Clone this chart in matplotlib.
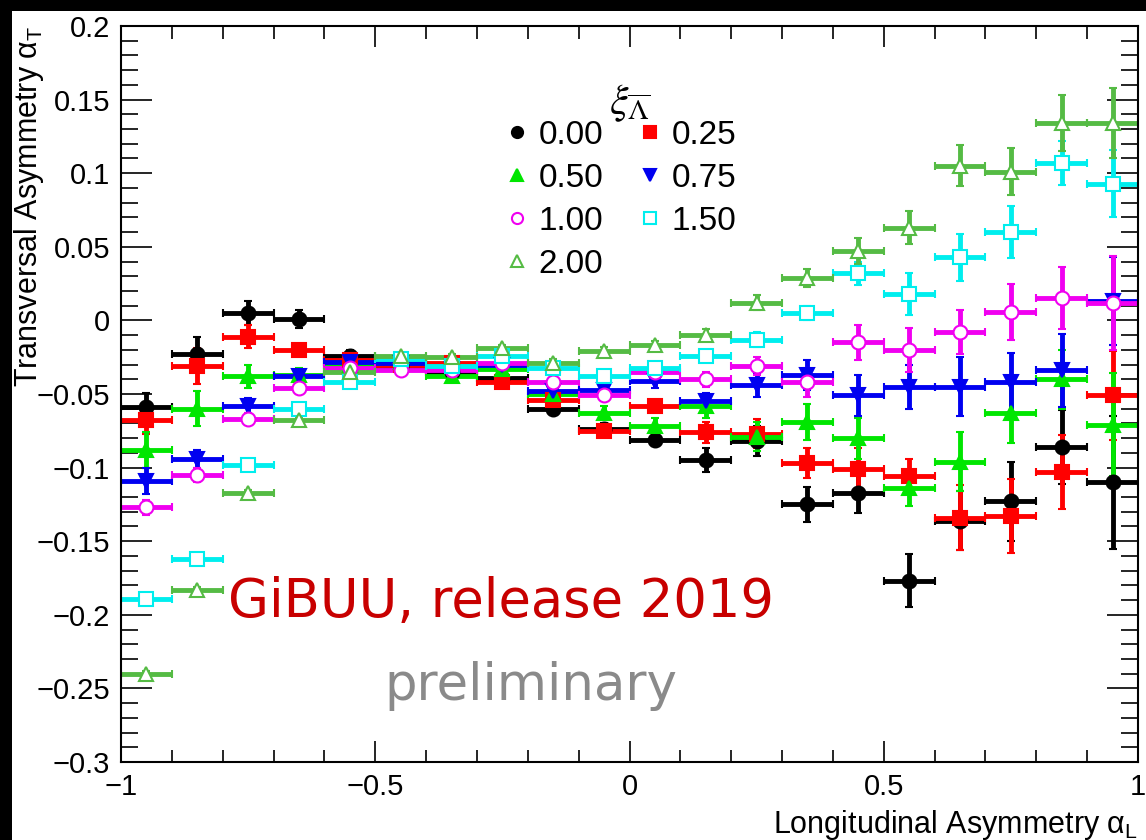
import matplotlib
matplotlib.use("Agg")
import matplotlib.pyplot as plt
from matplotlib.lines import Line2D
from matplotlib.patches import Rectangle
from matplotlib.ticker import MultipleLocator, FuncFormatter

plt.rcParams['font.family'] = ['Liberation Sans', 'DejaVu Sans']
plt.rcParams['mathtext.fontset'] = 'custom'
plt.rcParams['mathtext.rm'] = 'Liberation Sans'

# bin centres of the longitudinal asymmetry
alpha_l = [-0.95, -0.85, -0.75, -0.65, -0.55, -0.45, -0.35, -0.25, -0.15, -0.05,
           0.05, 0.15, 0.25, 0.35, 0.45, 0.55, 0.65, 0.75, 0.85, 0.95]
half_bin = 0.05

# transversal asymmetry for each xi value
xi_000 = [-0.059, -0.023, 0.005, 0.001, -0.024, -0.031, -0.035, -0.039, -0.060, -0.074,
          -0.081, -0.095, -0.082, -0.125, -0.117, -0.177, -0.136, -0.123, -0.086, -0.110]
xi_025 = [-0.068, -0.031, -0.011, -0.020, -0.027, -0.030, -0.029, -0.042, -0.054, -0.075,
          -0.058, -0.076, -0.077, -0.097, -0.101, -0.106, -0.134, -0.133, -0.103, -0.051]
xi_050 = [-0.088, -0.060, -0.038, -0.037, -0.030, -0.028, -0.038, -0.033, -0.050, -0.063,
          -0.072, -0.058, -0.079, -0.069, -0.080, -0.114, -0.096, -0.063, -0.040, -0.071]
xi_075 = [-0.109, -0.094, -0.058, -0.038, -0.028, -0.029, -0.033, -0.030, -0.048, -0.047,
          -0.041, -0.055, -0.044, -0.037, -0.051, -0.045, -0.045, -0.042, -0.034, 0.013]
xi_100 = [-0.127, -0.105, -0.067, -0.046, -0.032, -0.034, -0.034, -0.029, -0.042, -0.051,
          -0.035, -0.040, -0.031, -0.042, -0.015, -0.020, -0.008, 0.006, 0.015, 0.012]
xi_150 = [-0.189, -0.162, -0.098, -0.060, -0.042, -0.026, -0.031, -0.024, -0.032, -0.038,
          -0.032, -0.024, -0.013, 0.005, 0.032, 0.018, 0.043, 0.060, 0.107, 0.093]
xi_200 = [-0.240, -0.183, -0.117, -0.068, -0.035, -0.024, -0.025, -0.019, -0.029, -0.021,
          -0.017, -0.010, 0.012, 0.029, 0.047, 0.063, 0.105, 0.101, 0.134, 0.134]

# statistical errors
err_000 = [0.010, 0.012, 0.008, 0.006, 0.004, 0.003, 0.003, 0.003, 0.004, 0.004,
           0.004, 0.008, 0.010, 0.012, 0.014, 0.018, 0.020, 0.027, 0.025, 0.045]
err_025 = [0.009, 0.012, 0.008, 0.004, 0.003, 0.003, 0.003, 0.003, 0.004, 0.004,
           0.004, 0.007, 0.010, 0.010, 0.014, 0.012, 0.022, 0.025, 0.025, 0.030]
err_050 = [0.012, 0.012, 0.008, 0.005, 0.003, 0.003, 0.003, 0.003, 0.004, 0.005,
           0.006, 0.008, 0.010, 0.012, 0.014, 0.012, 0.020, 0.020, 0.020, 0.035]
err_075 = [0.009, 0.006, 0.005, 0.004, 0.003, 0.003, 0.003, 0.003, 0.004, 0.004,
           0.005, 0.006, 0.008, 0.010, 0.014, 0.015, 0.020, 0.020, 0.025, 0.030]
err_100 = [0.005, 0.005, 0.004, 0.004, 0.003, 0.003, 0.003, 0.003, 0.003, 0.003,
           0.004, 0.005, 0.006, 0.010, 0.012, 0.015, 0.015, 0.019, 0.021, 0.032]
err_150 = [0.003, 0.004, 0.003, 0.003, 0.003, 0.002, 0.002, 0.002, 0.003, 0.003,
           0.003, 0.004, 0.005, 0.005, 0.008, 0.014, 0.016, 0.0175, 0.015, 0.023]
err_200 = [0.002, 0.002, 0.002, 0.002, 0.002, 0.002, 0.002, 0.002, 0.003, 0.003,
           0.003, 0.004, 0.005, 0.006, 0.009, 0.011, 0.014, 0.016, 0.019, 0.024]

labels = ["0.00", "0.25", "0.50", "0.75", "1.00", "1.50", "2.00"]
series = [xi_000, xi_025, xi_050, xi_075, xi_100, xi_150, xi_200]
errors = [err_000, err_025, err_050, err_075, err_100, err_150, err_200]
colors = ["black", "#ff0000", "#00e600", "#0000f0", "#f000f0", "#00eeee", "#55bb44"]
markers = ["o", "s", "^", "v", "o", "s", "^"]
filled = [True, True, True, True, False, False, False]

fig = plt.figure(figsize=(11.46, 8.4), dpi=100, facecolor="black")
fig.patches.append(Rectangle((12 / 1146, 0), 1, 1 - 11 / 840, transform=fig.transFigure,
                             facecolor="white", edgecolor="none", zorder=-10))
ax = fig.add_axes([121 / 1146, 1 - 762 / 840, 1017 / 1146, 736 / 840])
ax.set_zorder(5)

handles = []
for y, e, c, m, f, lab in zip(series, errors, colors, markers, filled, labels):
    face = c if f else "white"
    ax.errorbar(alpha_l, y, xerr=half_bin, yerr=e, fmt=m, color=c, mfc=face, mec=c,
                ms=10, mew=1.5, elinewidth=3.5, capsize=3, capthick=3.5)
    handles.append(Line2D([], [], ls="none", marker=m, color=c, mfc=face, mec=c,
                          ms=8, mew=1.5, label=lab))

ax.set_xlim(-1, 1)
ax.set_ylim(-0.3, 0.2)
ax.xaxis.set_major_locator(MultipleLocator(0.5))
ax.xaxis.set_minor_locator(MultipleLocator(0.1))
ax.yaxis.set_major_locator(MultipleLocator(0.05))
ax.yaxis.set_minor_locator(MultipleLocator(0.01))
fmt = FuncFormatter(lambda v, p: ("%g" % round(v, 3)).replace("-", "\u2212"))
ax.xaxis.set_major_formatter(fmt)
ax.yaxis.set_major_formatter(fmt)
ax.tick_params(which="both", direction="in", top=True, right=True, width=1.2,
               labelsize=21, colors="black")
ax.tick_params(axis="y", which="major", length=22, pad=8)
ax.tick_params(axis="y", which="minor", length=12)
ax.tick_params(axis="x", which="major", length=15, pad=8)
ax.tick_params(axis="x", which="minor", length=9)
for s in ax.spines.values():
    s.set_linewidth(1.5)

ax.set_ylabel(r"Transversal Asymmetry α$_{\rm T}$", fontsize=22, loc="top")
ax.yaxis.set_label_coords(-0.074, 1.0)
ax.set_xlabel(r"Longitudinal Asymmetry α$_{\rm L}$", fontsize=22, loc="right")
ax.xaxis.set_label_coords(1.0, -0.062)

# legend: column-wise order so rows read 0.00/0.25, 0.50/0.75, ...
order = [0, 2, 4, 6, 1, 3, 5]
ax.legend([handles[i] for i in order], [labels[i] for i in order], ncol=2,
          frameon=False, fontsize=24, loc="upper left",
          bbox_to_anchor=(507 / 1146, 1 - 120 / 840), bbox_transform=fig.transFigure,
          borderpad=0, borderaxespad=0, handlelength=0.6, handletextpad=0.35,
          labelspacing=0.36, columnspacing=1.1)
fig.text(630 / 1146, 1 - 103 / 840, r"$\xi_{\overline{\Lambda}}$", fontsize=30,
         math_fontfamily="stix", ha="center", va="center", zorder=10)

fig.text(501 / 1146, 1 - 617 / 840, "GiBUU, release 2019", fontsize=38,
         family="DejaVu Sans", color="#c80000", ha="center", va="baseline", zorder=10)
fig.text(531 / 1146, 1 - 700 / 840, "preliminary", fontsize=37,
         family="DejaVu Sans", color="#8a8a8a", ha="center", va="baseline", zorder=10)

fig.savefig("out.png", dpi=100, facecolor=fig.get_facecolor())
